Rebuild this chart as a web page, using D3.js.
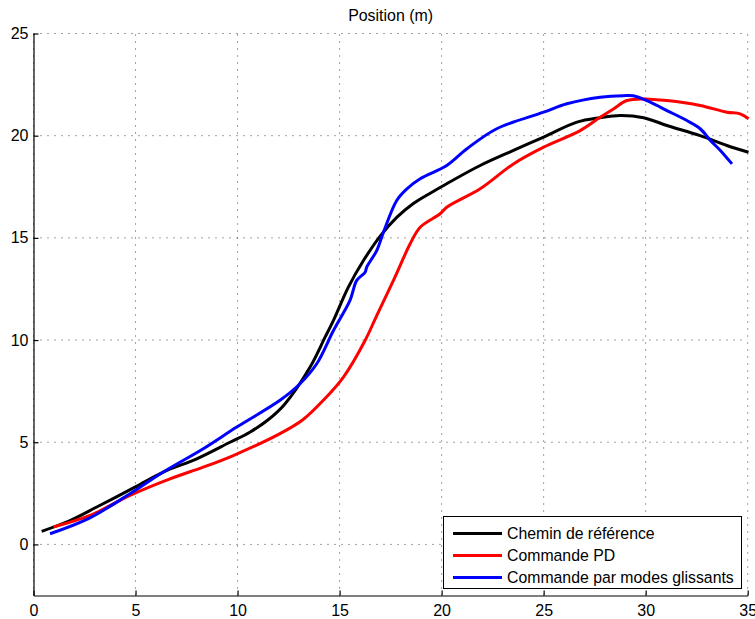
<!DOCTYPE html>
<html><head><meta charset="utf-8">
<script src="https://cdn.jsdelivr.net/npm/d3@7"></script>
<style>body{margin:0;background:#fff}svg{display:block;font-family:"Liberation Sans",Arial,sans-serif}</style>
</head><body><svg id="c" width="755" height="619"></svg>
<script>
const title = "Position (m)";
const xTicks = [0,5,10,15,20,25,30,35];
const yTicks = [0,5,10,15,20,25];
const seriesNames = ["Chemin de référence","Commande PD","Commande par modes glissants"];
const seriesColors = ["#000000","#ff0000","#0000ff"];

const refX = [0.4,1.79,3.1,4.97,6.36,8.0,9.63,10.6,11.5,12.3,13.55,14.29,14.7,15.43,16.17,17.0,17.8,18.6,19.4,20.25,21.89,23.52,25.0,26.63,27.77,28.75,29.9,31.04,32.67,33.98,35.04];
const refY = [0.64,1.17,1.83,2.8,3.54,4.19,5.0,5.49,6.1,6.85,8.67,10.14,10.96,12.59,13.89,15.1,16.0,16.67,17.16,17.65,18.54,19.28,19.93,20.66,20.88,20.99,20.88,20.5,20.0,19.52,19.19];

const pdX = [0.97,2.77,4.73,6.69,8.32,9.79,12.08,13.2,14.2,15.19,16.25,16.82,17.64,18.46,18.95,19.93,20.25,21.89,23.52,25.0,26.79,27.77,28.42,29.08,29.9,31.04,32.67,33.98,34.63,35.04];
const pdY = [0.85,1.42,2.4,3.21,3.78,4.35,5.42,6.1,7.05,8.19,9.98,11.2,12.92,14.71,15.52,16.18,16.5,17.4,18.62,19.44,20.25,20.9,21.31,21.72,21.8,21.72,21.48,21.15,21.07,20.83];

const smX = [0.81,2.69,4.73,6.36,8.32,9.96,12.08,13.06,13.88,14.7,15.51,15.84,16.25,16.33,16.82,17.15,17.8,18.3,18.95,20.25,21.24,22.7,25.0,26.14,27.77,28.91,29.4,30.22,31.04,32.02,32.67,33.17,33.66,34.23];
const smY = [0.52,1.26,2.48,3.54,4.68,5.74,7.05,7.86,8.84,10.47,11.94,12.92,13.32,13.57,14.38,15.28,16.83,17.4,17.89,18.54,19.36,20.34,21.15,21.56,21.88,21.96,21.95,21.64,21.23,20.74,20.34,19.77,19.28,18.62];

const svg = d3.select("#c");
const x = d3.scaleLinear().domain([0,35]).range([33.5,747.7]);
const y = d3.scaleLinear().domain([-2.5,25]).range([595.5,33.5]);

// grid
const g = svg.append("g");
g.selectAll("line.vx").data(xTicks).join("line")
  .attr("x1",d=>x(d)).attr("x2",d=>x(d)).attr("y1",y(-2.5)).attr("y2",y(25))
  .attr("stroke","#444").attr("stroke-width",1).attr("stroke-dasharray","1,6");
g.selectAll("line.hy").data(yTicks).join("line")
  .attr("y1",d=>y(d)).attr("y2",d=>y(d)).attr("x1",x(0)).attr("x2",x(35))
  .attr("stroke","#444").attr("stroke-width",1).attr("stroke-dasharray","1,6");

// axes
const xa = svg.append("g").attr("transform",`translate(0,${y(-2.5)})`)
  .call(d3.axisBottom(x).tickValues(xTicks).tickSizeInner(-5).tickSizeOuter(0).tickPadding(9));
const ya = svg.append("g").attr("transform",`translate(${x(0)},0)`)
  .call(d3.axisLeft(y).tickValues(yTicks).tickSizeInner(-5).tickSizeOuter(0).tickPadding(5));
[xa,ya].forEach(a=>{
  a.select(".domain").attr("stroke","#000").attr("stroke-width",1.2);
  a.selectAll(".tick line").attr("stroke","#000").attr("stroke-width",1.2);
  a.selectAll("text").attr("font-size",16).attr("fill","#000").attr("font-family","Liberation Sans, Arial, sans-serif");
});

// lines
const datasets = [[refX,refY],[pdX,pdY],[smX,smY]];
datasets.forEach((ds,i)=>{
  const pts = ds[0].map((v,j)=>[v,ds[1][j]]);
  svg.append("path").datum(pts).attr("d",d3.line().x(d=>x(d[0])).y(d=>y(d[1])).curve(d3.curveCatmullRom.alpha(0.5)))
    .attr("fill","none").attr("stroke",seriesColors[i]).attr("stroke-width",3).attr("stroke-linejoin","round");
});

// title
const tt = svg.append("text").attr("x",(x(0)+x(35))/2).attr("y",21).attr("text-anchor","middle")
  .attr("font-size",15).attr("fill","#000").text(title);
{ const w = tt.node().getComputedTextLength(); if (w>0) tt.attr("font-size", 15*85/w); }

// legend
const lg = svg.append("g");
lg.append("rect").attr("x",443.5).attr("y",516.5).attr("width",298).attr("height",72)
  .attr("fill","#fff").attr("stroke","#000").attr("stroke-width",1);
const texts = [];
seriesNames.forEach((n,i)=>{
  const cy = 533.5 + i*22;
  lg.append("line").attr("x1",453).attr("x2",502).attr("y1",cy).attr("y2",cy)
    .attr("stroke",seriesColors[i]).attr("stroke-width",3);
  texts.push(lg.append("text").attr("x",507).attr("y",cy+5.5).attr("font-size",15).attr("fill","#000").text(n));
});
{ const w = texts[2].node().getComputedTextLength(); if (w>0) { const fs = Math.min(17, 15*227/w); texts.forEach(t=>t.attr("font-size",fs)); } }
</script></body></html>
